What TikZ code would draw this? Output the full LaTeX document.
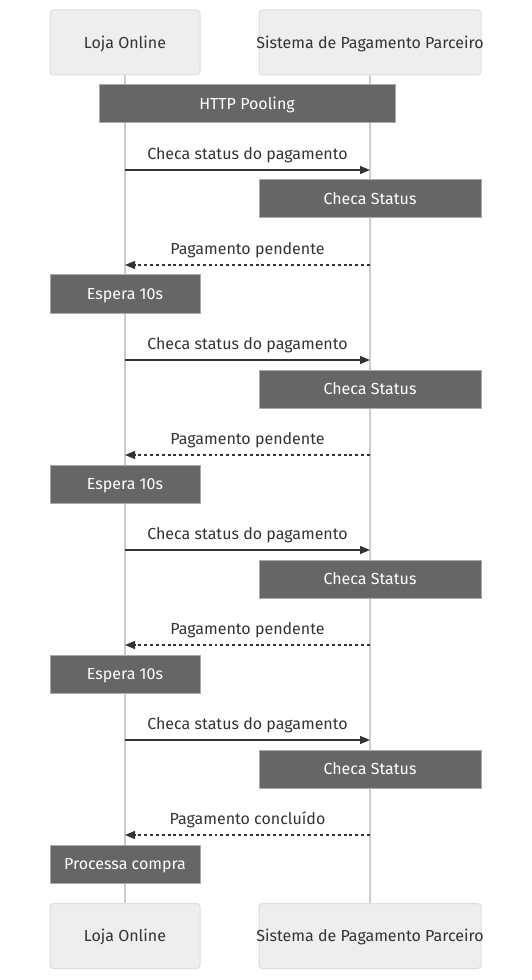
\documentclass[tikz,border=0pt]{standalone}
\usepackage{fontspec}
\setmainfont{Fira Sans}
\usetikzlibrary{arrows.meta,backgrounds}
\definecolor{actfill}{HTML}{EEEEEE}
\definecolor{actdraw}{HTML}{DDDDDD}
\definecolor{notefill}{HTML}{666666}
\definecolor{notedraw}{HTML}{AAAAAA}
\definecolor{txt}{HTML}{333333}
\definecolor{life}{HTML}{CCCCCC}
\tikzset{
  actor/.style={draw=actdraw,fill=actfill,rounded corners=2.5pt,line width=0.75pt,text=txt,minimum height=48.75pt,inner sep=0pt,text height=8.4pt,text depth=0pt,font=\fontsize{12}{14}\selectfont},
  leftact/.style={actor,minimum width=112.5pt},
  rightact/.style={actor,minimum width=166.5pt,inner xsep=-5pt},
  notebox/.style={draw=notedraw,fill=notefill,line width=0.75pt,text=white,minimum height=28.5pt,inner sep=0pt,text height=8.4pt,text depth=0pt,font=\fontsize{12}{14}\selectfont},
  msg/.style={draw=txt,line width=1.1pt,-{Triangle[length=7.5pt,width=6pt]}},
  ret/.style={msg,dash pattern=on 2.2pt off 2.2pt},
  mlabel/.style={text=txt,font=\fontsize{12}{14}\selectfont,inner sep=0pt},
  lifeline/.style={draw=life,line width=1.5pt}
}
\begin{document}
\begin{tikzpicture}[x=0.75pt,y=-0.75pt]
\useasboundingbox (0,0) rectangle (531,980);
\node[leftact] (lt) at (125,42.5) {Loja Online};
\node[rightact] (st) at (370,42.5) {Sistema de Pagamento Parceiro};
\node[leftact] (lb) at (125,936) {Loja Online};
\node[rightact] (sb) at (370,936) {Sistema de Pagamento Parceiro};
\begin{scope}[on background layer]
\draw[lifeline] (lt.south) -- (lb.north);
\draw[lifeline] (st.south) -- (sb.north);
\end{scope}
\node[notebox,minimum width=222pt] (http) at (247,104) {HTTP Pooling};
\foreach \i/\y in {1/0,2/190,3/380,4/570}{
  \coordinate (ma\i) at (125,170+\y);
  \coordinate (mb\i) at (370,170+\y);
  \coordinate (ra\i) at (125,265+\y);
  \coordinate (rb\i) at (370,265+\y);
  \draw[msg] (ma\i) -- (mb\i) node[mlabel,midway,above=4.5pt] {Checa status do pagamento};
  \node[notebox,minimum width=166.5pt] (cs\i) at (370,199+\y) {Checa Status};
}
\foreach \i/\y in {1/0,2/190,3/380}{
  \draw[ret] (rb\i) -- (ra\i) node[mlabel,midway,above=4.5pt] {Pagamento pendente};
  \node[notebox,minimum width=112.5pt] (esp\i) at (125,294+\y) {Espera 10s};
}
\draw[ret] (rb4) -- (ra4) node[mlabel,midway,above=4.5pt] {Pagamento concluído};
\node[notebox,minimum width=112.5pt] (proc) at (125,864) {Processa compra};
\end{tikzpicture}
\end{document}
